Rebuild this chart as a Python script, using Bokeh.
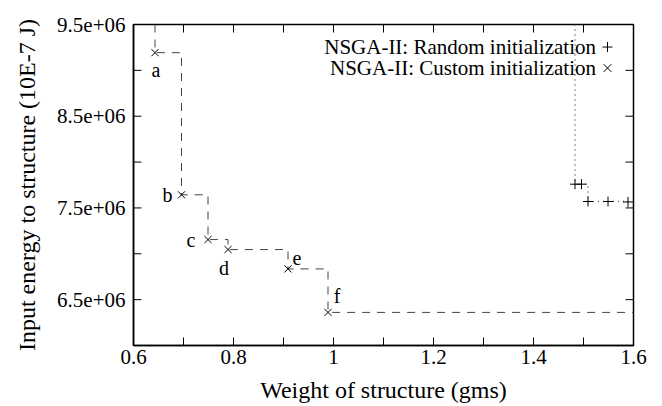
from bokeh.plotting import figure
from bokeh.models import FixedTicker, Label
from bokeh.core.properties import value
from bokeh.embed import file_html
from bokeh.resources import INLINE

# ---- data ----
custom_w = [0.643, 0.696, 0.749, 0.789, 0.909, 0.989]
custom_e = [9.193e6, 7.643e6, 7.155e6, 7.046e6, 6.835e6, 6.361e6]
custom_labels = ["a", "b", "c", "d", "e", "f"]

random_w = [1.483, 1.496, 1.509, 1.549, 1.589]
random_e = [7.759e6, 7.759e6, 7.570e6, 7.570e6, 7.565e6]

x_ticks = [0.6, 0.7, 0.8, 0.9, 1.0, 1.1, 1.2, 1.3, 1.4, 1.5, 1.6]
x_label_ticks = [0.6, 0.8, 1.0, 1.2, 1.4, 1.6]
x_tick_labels = ["0.6", "0.8", "1", "1.2", "1.4", "1.6"]
y_ticks = [6000000, 6500000, 7000000, 7500000, 8000000, 8500000, 9000000, 9500000]
y_label_ticks = [6500000, 7500000, 8500000, 9500000]
y_tick_labels = ["6.5e+06", "7.5e+06", "8.5e+06", "9.5e+06"]

series_names = ["NSGA-II: Random initialization", "NSGA-II: Custom initialization"]

X_MIN, X_MAX = 0.6, 1.6
Y_MIN, Y_MAX = 6.0e6, 9.5e6

FONT = "Liberation Serif"
FS = "21px"
FS_TITLE = "24px"

W, H = 662, 406
BL, BR, BT, BB = 133, 29, 24, 61
FRAME_W, FRAME_H = W - BL - BR, H - BT - BB
TICK_PX = 8


def step_path(xs, ys, top, right=None):
    px, py = [xs[0]], [top]
    for i in range(len(xs)):
        px.append(xs[i]); py.append(ys[i])
        if i + 1 < len(xs):
            px.append(xs[i + 1]); py.append(ys[i])
    if right is not None:
        px.append(right); py.append(ys[-1])
    return px, py


p = figure(width=W, height=H, x_range=(X_MIN, X_MAX), y_range=(Y_MIN, Y_MAX),
           output_backend="svg", toolbar_location=None,
           min_border_left=BL, min_border_right=BR, min_border_top=BT, min_border_bottom=BB)
p.grid.visible = False
p.outline_line_color = "black"
p.outline_line_width = 1.5
p.background_fill_color = "white"
p.border_fill_color = "white"

# inward tick marks on all four sides, drawn as short segments inside the frame
tdx = TICK_PX * (X_MAX - X_MIN) / FRAME_W
tdy = TICK_PX * (Y_MAX - Y_MIN) / FRAME_H
tick_x0, tick_y0, tick_x1, tick_y1 = [], [], [], []
for t in x_ticks:
    tick_x0 += [t, t]; tick_x1 += [t, t]
    tick_y0 += [Y_MIN, Y_MAX]; tick_y1 += [Y_MIN + tdy, Y_MAX - tdy]
for t in y_ticks:
    tick_y0 += [t, t]; tick_y1 += [t, t]
    tick_x0 += [X_MIN, X_MAX]; tick_x1 += [X_MIN + tdx, X_MAX - tdx]
p.segment(x0=tick_x0, y0=tick_y0, x1=tick_x1, y1=tick_y1,
          line_color="black", line_width=1)

# step lines
cx, cy = step_path(custom_w, custom_e, Y_MAX, X_MAX)
p.line(cx, cy, line_color="#444444", line_width=1, line_dash="8 7")
rx, ry = step_path(random_w, random_e, Y_MAX)
p.line(rx, ry, line_color="#555555", line_width=1.5, line_dash="1 4")

# markers
p.scatter(custom_w, custom_e, marker="x", size=10, line_color="black", line_width=1)
p.scatter(random_w, random_e, marker="cross", size=10, line_color="black", line_width=1)

# point labels
x_offs = [1, -14, -17, -4, 9, 9]
y_offs = [17, 0, 0, 18, -11, -16]
p.text(custom_w, custom_e, text=custom_labels, x_offset=x_offs, y_offset=y_offs,
       text_align="center", text_baseline="middle", text_font=value(FONT),
       text_font_size="20px", text_color="black")

# legend (manual, gnuplot-like)
leg_x_text = 1.525
leg_x_mark = 1.548
leg_y = [9.254e6, 9.025e6]
for name, yy in zip(series_names, leg_y):
    p.add_layout(Label(x=leg_x_text, y=yy, text=name, text_align="right",
                       text_baseline="middle", text_font=FONT, text_font_size=FS,
                       text_color="black"))
p.scatter([leg_x_mark], [leg_y[0]], marker="cross", size=10, line_color="black", line_width=1)
p.scatter([leg_x_mark], [leg_y[1]], marker="x", size=11, line_color="black", line_width=1)

# axes (labels only; tick marks are drawn above)
xa = p.xaxis[0]
xa.ticker = FixedTicker(ticks=x_label_ticks)
xa.major_label_overrides = dict(zip(x_label_ticks, x_tick_labels))
ya = p.yaxis[0]
ya.ticker = FixedTicker(ticks=y_label_ticks)
ya.major_label_overrides = dict(zip(y_label_ticks, y_tick_labels))

xa.axis_label = "Weight of structure (gms)"
ya.axis_label = "Input energy to structure (10E-7 J)"

for ax in (xa, ya):
    ax.major_tick_in = 0
    ax.major_tick_out = 0
    ax.minor_tick_in = 0
    ax.minor_tick_out = 0
    ax.axis_line_color = "black"
    ax.axis_line_width = 1.5
    ax.major_label_text_font = FONT
    ax.major_label_text_font_size = FS
    ax.major_label_text_color = "black"
    ax.axis_label_text_font = FONT
    ax.axis_label_text_font_size = FS_TITLE
    ax.axis_label_text_font_style = "normal"
    ax.axis_label_text_color = "black"

xa.major_label_standoff = 4
xa.axis_label_standoff = 10
ya.major_label_standoff = 8
ya.axis_label_standoff = 14

open("out.html", "w").write(file_html(p, INLINE))
